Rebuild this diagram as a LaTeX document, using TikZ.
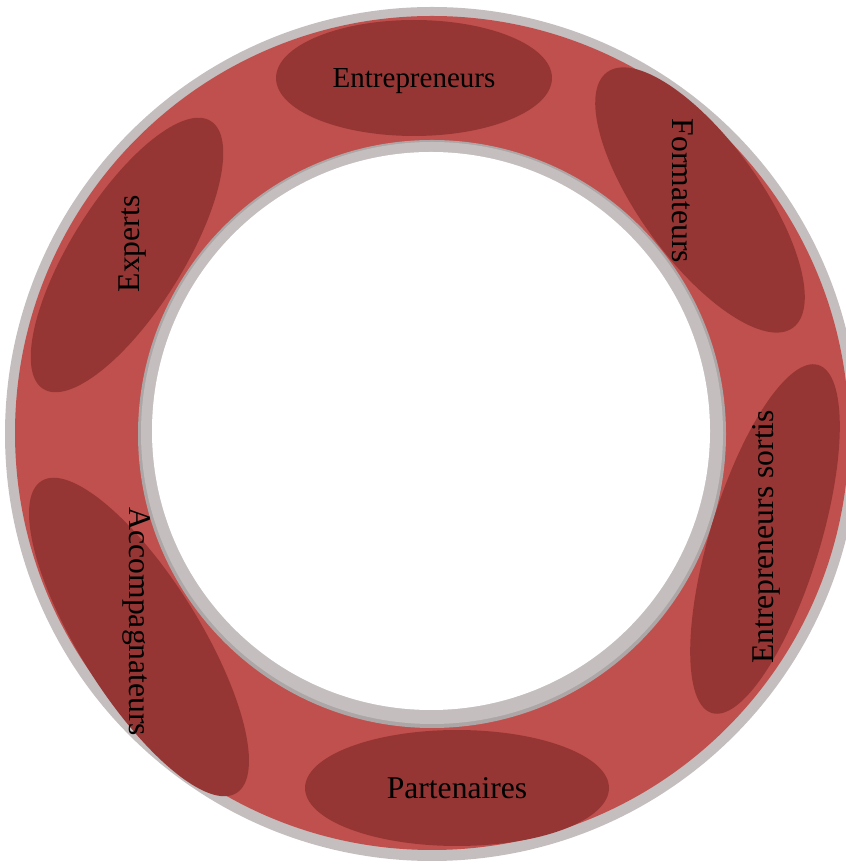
\documentclass[tikz,border=0pt]{standalone}
\usepackage{fontspec}
\setmainfont{Liberation Serif}
\usetikzlibrary{shapes.geometric}

\definecolor{ringred}{HTML}{C0504D}
\definecolor{blobred}{HTML}{963634}
\definecolor{ringgray}{HTML}{C4BEBE}
\definecolor{edgegray}{HTML}{ADA6A6}

\begin{document}
\begin{tikzpicture}[x=0.02cm,y=0.02cm]

      \tikzstyle{blob}=[ellipse,fill=blobred,inner sep=0pt]
      \tikzstyle{word}=[inner sep=0pt,text=black,
        font=\fontsize{18}{20}\selectfont]

      \useasboundingbox (0,0) rectangle (845,865);

      % the ring
      \fill[ringgray] (432,431) circle (427);
      \fill[ringred] (432,432) circle (417);
      \fill[edgegray] (432,431) circle (294);
      \fill[ringgray] (432,432) circle (291);
      \fill[white] (431,434) circle (279);

      % the six groups
      \node(Entrepreneurs1)[blob,minimum width=5.52cm,
        minimum height=2.32cm] at (414,787) {};
      \node(Formateurs1)[blob,rotate=-54,minimum width=6.32cm,
        minimum height=2.4cm] at (700,665) {};
      \node(Sortis1)[blob,rotate=73,minimum width=7.28cm,
        minimum height=2.2cm] at (765,326) {};
      \node(Partenaires1)[blob,minimum width=6.08cm,
        minimum height=2.32cm] at (457,77) {};
      \node(Accompagnateurs1)[blob,rotate=-58,minimum width=7.36cm,
        minimum height=2.4cm] at (139,228) {};
      \node(Experts1)[blob,rotate=58,minimum width=6.32cm,
        minimum height=2.24cm] at (127,610) {};

      \node(Entrepreneurs2)[word,font=\fontsize{16.5}{18}\selectfont]
        at (414,784) {Entrepreneurs};
      \node(Formateurs2)[word,rotate=-90] at (683,674) {Formateurs};
      \node(Sortis2)[word,rotate=90] at (766,328) {Entrepreneurs sortis};
      \node(Partenaires2)[word] at (Partenaires1) {Partenaires};
      \node(Accompagnateurs2)[word,rotate=-90] at (137,243)
        {Accompagnateurs};
      \node(Experts2)[word,rotate=90] at (133,621) {Experts};

    \end{tikzpicture}
\end{document}
